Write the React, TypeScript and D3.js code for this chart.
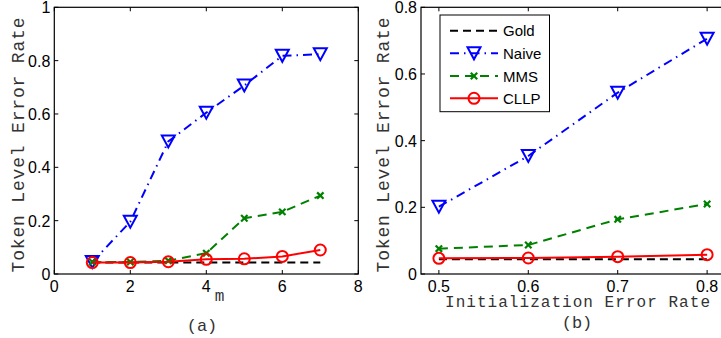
import React from "react";
import * as d3 from "d3";

const mValues = [1, 2, 3, 4, 5, 6, 7];
const goldA = [0.043, 0.043, 0.043, 0.043, 0.043, 0.043, 0.043];
const naiveA = [0.045, 0.196, 0.497, 0.605, 0.707, 0.818, 0.824];
const mmsA = [0.045, 0.045, 0.05, 0.078, 0.209, 0.233, 0.294];
const cllpA = [0.043, 0.043, 0.046, 0.055, 0.057, 0.066, 0.09];

const initRates = [0.5, 0.6, 0.7, 0.8];
const goldB = [0.044, 0.044, 0.044, 0.044];
const naiveB = [0.202, 0.354, 0.544, 0.706];
const mmsB = [0.076, 0.087, 0.164, 0.21];
const cllpB = [0.047, 0.048, 0.052, 0.058];

const xTicksA = [0, 2, 4, 6, 8];
const yTicksA = [0, 0.2, 0.4, 0.6, 0.8, 1];
const xTicksB = [0.5, 0.6, 0.7, 0.8];
const yTicksB = [0, 0.2, 0.4, 0.6, 0.8];

const legendNames = ["Gold", "Naive", "MMS", "CLLP"];

const SANS = "'Liberation Sans', Arial, Helvetica, sans-serif";
const MONO = "'Liberation Mono', 'Courier New', monospace";

type SeriesStyle = { color: string; dash: string; marker: string };
const styles: SeriesStyle[] = [
  { color: "#000000", dash: "8,5", marker: "none" },
  { color: "#0000ff", dash: "9,5,1.5,5", marker: "tri" },
  { color: "#008000", dash: "9,6", marker: "x" },
  { color: "#ff0000", dash: "none", marker: "circle" },
];

function Marker({ kind, x, y, color }: { kind: string; x: number; y: number; color: string }) {
  if (kind === "tri") {
    const w = 6.5, h = 6;
    return (
      <polygon
        points={`${x - w},${y - h} ${x + w},${y - h} ${x},${y + h}`}
        fill="none"
        stroke={color}
        strokeWidth={2}
        strokeLinejoin="miter"
      />
    );
  }
  if (kind === "circle") {
    return <circle cx={x} cy={y} r={5.5} fill="none" stroke={color} strokeWidth={2} />;
  }
  if (kind === "x") {
    const s = 3.2;
    return (
      <g stroke={color} strokeWidth={2.2}>
        <line x1={x - s} y1={y - s} x2={x + s} y2={y + s} />
        <line x1={x - s} y1={y + s} x2={x + s} y2={y - s} />
      </g>
    );
  }
  return null;
}

function Panel({
  xDomain, xRange, yDomain, xs, series, xTicks, yTicks, xFmt, yFmt, idx,
}: {
  xDomain: [number, number]; xRange: [number, number]; yDomain: [number, number];
  xs: number[]; series: number[][]; xTicks: number[]; yTicks: number[];
  xFmt: (v: number) => string; yFmt: (v: number) => string; idx: number;
}) {
  const top = 7.3, bottom = 274;
  const x = d3.scaleLinear().domain(xDomain).range(xRange);
  const y = d3.scaleLinear().domain(yDomain).range([bottom, top]);
  const line = d3.line<[number, number]>().x((d) => x(d[0])).y((d) => y(d[1]));
  const [x0, x1] = xRange;
  const tl = 4;
  return (
    <g>
      {series.map((vals, i) => {
        const pts: [number, number][] = xs.map((xv, j) => [xv, vals[j]]);
        const st = styles[i];
        return (
          <g key={i}>
            <path
              d={line(pts) || ""}
              fill="none"
              stroke={st.color}
              strokeWidth={2}
              strokeDasharray={st.dash === "none" ? undefined : st.dash}
            />
            {pts.map((p, j) => (
              <Marker key={j} kind={st.marker} x={x(p[0])} y={y(p[1])} color={st.color} />
            ))}
          </g>
        );
      })}
      <rect x={x0} y={top} width={x1 - x0} height={bottom - top} fill="none" stroke="#000" strokeWidth={1.2} />
      {xTicks.map((t) => (
        <g key={"xt" + t}>
          <line x1={x(t)} x2={x(t)} y1={bottom} y2={bottom - tl} stroke="#000" />
          <line x1={x(t)} x2={x(t)} y1={top} y2={top + tl} stroke="#000" />
          <text x={x(t)} y={292} textAnchor="middle" fontFamily={SANS} fontSize={16} fill="#000">
            {xFmt(t)}
          </text>
        </g>
      ))}
      {yTicks.map((t) => (
        <g key={"yt" + t}>
          <line x1={x0} x2={x0 + tl} y1={y(t)} y2={y(t)} stroke="#000" />
          <line x1={x1} x2={x1 - tl} y1={y(t)} y2={y(t)} stroke="#000" />
          <text x={x0 - 4} y={y(t) + 6} textAnchor="end" fontFamily={SANS} fontSize={16} fill="#000">
            {yFmt(t)}
          </text>
        </g>
      ))}
      <text
        transform={`translate(${idx === 0 ? 24 : 389},${145}) rotate(-90)`}
        textAnchor="middle"
        fontFamily={MONO}
        fontSize={18}
        textLength={255}
        lengthAdjust="spacing"
        fill="#333"
      >
        Token Level Error Rate
      </text>
    </g>
  );
}

export default function App() {
  const fmtA = (v: number) => String(v);
  const fmtB = (v: number) => (v === 0 ? "0" : v.toFixed(1));
  return (
    <svg
      width={721}
      height={338}
      style={{ position: "absolute", left: 0, top: 0, background: "#fff" }}
    >
      <rect x={0} y={0} width={721} height={338} fill="#fff" />
      <Panel
        idx={0}
        xDomain={[0, 8]}
        xRange={[54.3, 358.3]}
        yDomain={[0, 1]}
        xs={mValues}
        series={[goldA, naiveA, mmsA, cllpA]}
        xTicks={xTicksA}
        yTicks={yTicksA}
        xFmt={fmtA}
        yFmt={fmtA}
      />
      <Panel
        idx={1}
        xDomain={[0.48, 0.82]}
        xRange={[421, 725]}
        yDomain={[0, 0.8]}
        xs={initRates}
        series={[goldB, naiveB, mmsB, cllpB]}
        xTicks={xTicksB}
        yTicks={yTicksB}
        xFmt={fmtB}
        yFmt={fmtB}
      />
      <text x={219.5} y={301} textAnchor="middle" fontFamily={MONO} fontSize={16} fill="#333">m</text>
      <text x={202} y={331} textAnchor="middle" fontFamily={MONO} fontSize={17} fill="#333">(a)</text>
      <text x={577.5} y={307} textAnchor="middle" fontFamily={MONO} fontSize={16} textLength={265} lengthAdjust="spacing" fill="#333">
        Initialization Error Rate
      </text>
      <text x={577} y={328} textAnchor="middle" fontFamily={MONO} fontSize={17} fill="#333">(b)</text>
      <g>
        <rect x={440} y={15} width={109.5} height={96.7} fill="#fff" stroke="#000" strokeWidth={1} />
        {legendNames.map((name, i) => {
          const ly = [30.7, 53.3, 76, 98.3][i];
          const st = styles[i];
          return (
            <g key={name}>
              <line x1={450} x2={498} y1={ly} y2={ly} stroke={st.color} strokeWidth={2}
                strokeDasharray={st.dash === "none" ? undefined : st.dash} />
              <Marker kind={st.marker} x={474} y={ly} color={st.color} />
              <text x={503} y={ly + 5.5} fontFamily={SANS} fontSize={15} fill="#000">{name}</text>
            </g>
          );
        })}
      </g>
    </svg>
  );
}
